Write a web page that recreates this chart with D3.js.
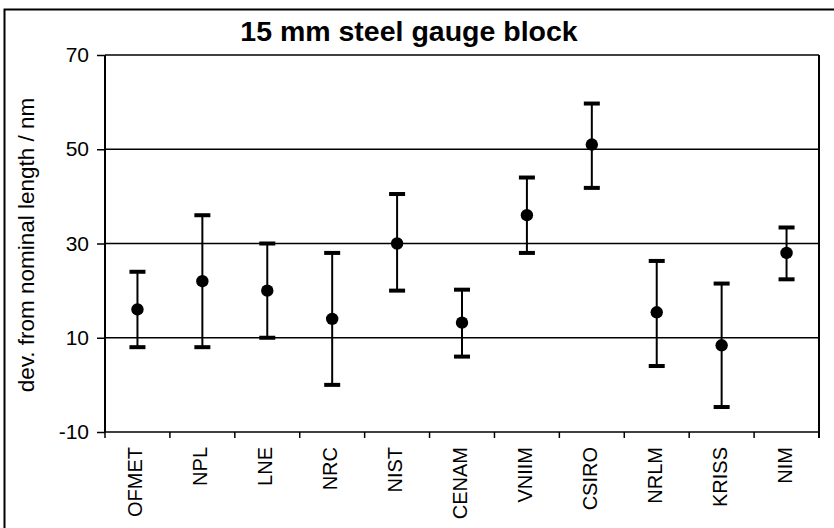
<!DOCTYPE html>
<html>
<head>
<meta charset="utf-8">
<script src="https://cdn.jsdelivr.net/npm/d3@7/dist/d3.min.js"></script>
<style>
  html, body { margin: 0; padding: 0; background: #fff; }
  svg { display: block; }
  text { font-family: "Liberation Sans", Arial, sans-serif; fill: #000; }
</style>
</head>
<body>
<svg id="chart" width="834" height="528"></svg>
<script>
const categories = ["OFMET", "NPL", "LNE", "NRC", "NIST", "CENAM", "VNIIM", "CSIRO", "NRLM", "KRISS", "NIM"];
const values     = [16, 22, 20, 14, 30, 13.2, 36, 51, 15.4, 8.4, 28];
const upper      = [24, 36, 30, 28, 40.5, 20.2, 44, 59.7, 26.3, 21.5, 33.4];
const lower      = [8, 8, 10, 0, 20, 6, 28, 41.8, 4, -4.7, 22.4];
const yTicks     = [-10, 10, 30, 50, 70];
const title      = "15 mm steel gauge block";
const yLabel     = "dev. from nominal length / nm";

const svg = d3.select("#chart");
const L = 105, R = 819, T = 55, B = 432;

const x = d3.scaleBand().domain(categories).range([L, R]).padding(0);
const y = d3.scaleLinear().domain([-10, 70]).range([B, T]);

// outer border (left and top visible)
svg.append("rect").attr("x", 4.5).attr("y", 9.5).attr("width", 900).attr("height", 600)
  .attr("fill", "none").attr("stroke", "#000").attr("stroke-width", 2);

// title
svg.append("text").attr("x", 409).attr("y", 41).attr("text-anchor", "middle")
  .attr("font-size", 28.5).attr("font-weight", "bold").text(title);

// grid lines
svg.append("g").selectAll("line").data(yTicks).join("line")
  .attr("x1", L).attr("x2", R).attr("y1", d => y(d)).attr("y2", d => y(d))
  .attr("stroke", "#000").attr("stroke-width", 1.5);

// frame left/right
svg.append("line").attr("x1", L).attr("x2", L).attr("y1", T).attr("y2", B)
  .attr("stroke", "#000").attr("stroke-width", 2);
svg.append("line").attr("x1", R).attr("x2", R).attr("y1", T).attr("y2", B + 6)
  .attr("stroke", "#000").attr("stroke-width", 2);

// y axis with ticks
const yAxis = d3.axisLeft(y).tickValues(yTicks).tickSize(8).tickPadding(8).tickFormat(d => String(d));
const gy = svg.append("g").attr("transform", `translate(${L},0)`).call(yAxis);
gy.select(".domain").remove();
gy.selectAll(".tick line").attr("stroke", "#000").attr("stroke-width", 1.5);
gy.selectAll(".tick text").attr("font-size", 21).attr("font-family", "Liberation Sans, Arial, sans-serif").attr("fill", "#000");

// x ticks at band boundaries
const bounds = categories.map(c => x(c)).concat([x(categories[categories.length - 1]) + x.bandwidth()]);
svg.append("g").selectAll("line").data(bounds).join("line")
  .attr("x1", d => d).attr("x2", d => d).attr("y1", B).attr("y2", B + 6)
  .attr("stroke", "#000").attr("stroke-width", 1.5);

// x labels
svg.append("g").selectAll("text").data(categories).join("text")
  .attr("transform", d => `translate(${x(d) + x.bandwidth() / 2 + 5},447) rotate(-90)`)
  .attr("text-anchor", "end").attr("font-size", 20).text(d => d);

// y label
svg.append("text").attr("transform", `translate(34,245) rotate(-90)`)
  .attr("text-anchor", "middle").attr("font-size", 22.5).text(yLabel);

// error bars
const cx = d => x(d) + x.bandwidth() / 2;
const gE = svg.append("g");
categories.forEach((c, i) => {
  gE.append("line").attr("x1", cx(c)).attr("x2", cx(c)).attr("y1", y(upper[i])).attr("y2", y(lower[i]))
    .attr("stroke", "#000").attr("stroke-width", 2);
  [upper[i], lower[i]].forEach(v => {
    gE.append("rect").attr("x", cx(c) - 8).attr("y", y(v) - 2).attr("width", 16).attr("height", 4)
      .attr("fill", "#000");
  });
  gE.append("circle").attr("cx", cx(c)).attr("cy", y(values[i])).attr("r", 6.2).attr("fill", "#000");
});
</script>
</body>
</html>
